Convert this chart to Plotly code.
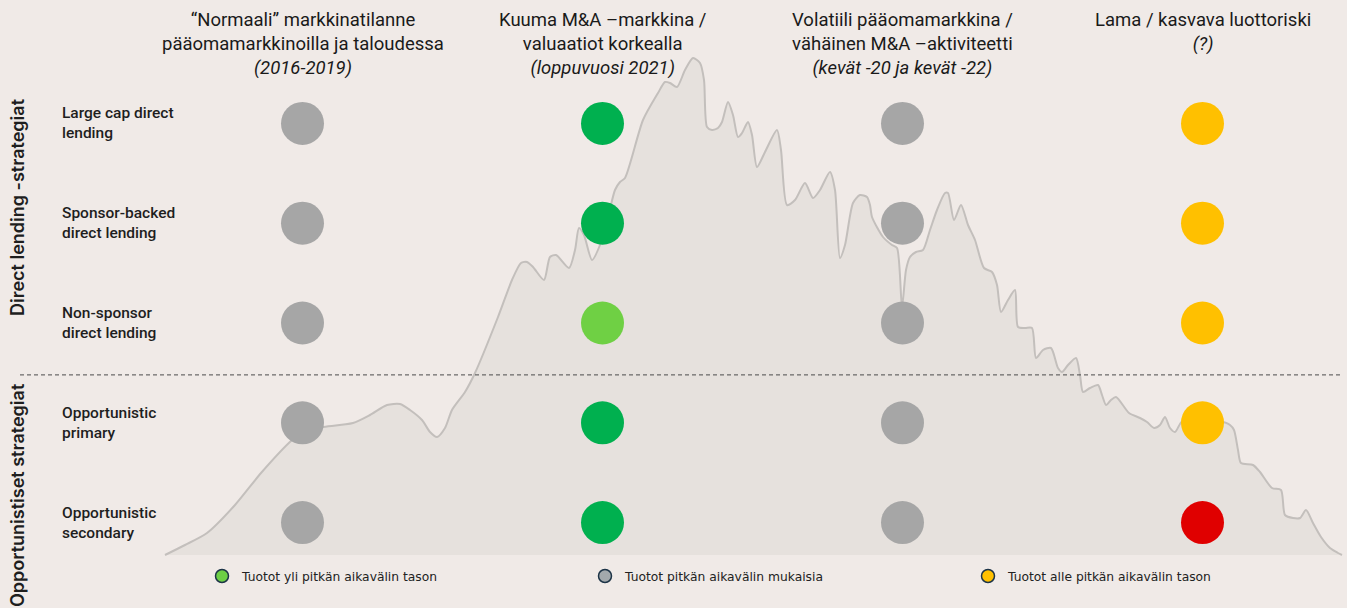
import plotly.graph_objects as go

# ---------------- data ----------------
column_titles = [
    "“Normaali” markkinatilanne<br>pääomamarkkinoilla ja taloudessa<br><i>(2016-2019)</i>",
    "Kuuma M&A –markkina /<br>valuaatiot korkealla<br><i>(loppuvuosi 2021)</i>",
    "Volatiili pääomamarkkina /<br>vähäinen M&A –aktiviteetti<br><i>(kevät -20 ja kevät -22)</i>",
    "Lama / kasvava luottoriski<br><i>(?)</i>",
]
strategies = [
    "Large cap direct<br>lending",
    "Sponsor-backed<br>direct lending",
    "Non-sponsor<br>direct lending",
    "Opportunistic<br>primary",
    "Opportunistic<br>secondary",
]
groups = ["Direct lending -strategiat", "Opportunistiset strategiat"]

# return outlook per strategy (rows) and market scenario (columns)
status = [
    ["neutral", "above", "neutral", "below"],
    ["neutral", "above", "neutral", "below"],
    ["neutral", "above_mild", "neutral", "below"],
    ["neutral", "above", "neutral", "below"],
    ["neutral", "above", "neutral", "well_below"],
]
status_colors = {
    "above": "#00b04f",
    "above_mild": "#6fd044",
    "neutral": "#a6a6a6",
    "below": "#ffc000",
    "well_below": "#e00000",
}
legend_labels = [
    "Tuotot yli pitkän aikavälin tason",
    "Tuotot pitkän aikavälin mukaisia",
    "Tuotot alle pitkän aikavälin tason",
]
legend_colors = ["#6dcf45", "#a3a9ac", "#ffc000"]

# background market index curve (time step, index level)
curve_x = [0, 20, 42, 70, 96, 127, 140, 157, 188, 205,
           222, 235, 245, 257, 265, 272, 280, 287, 300, 310,
           333, 347, 356, 362, 368, 379, 385, 391, 404, 410,
           414, 419, 427, 435, 444, 450, 455, 460, 478, 493,
           500, 505, 512, 520, 528, 535, 539, 542, 547, 553,
           557, 563, 568, 573, 577, 583, 587, 592, 600, 612,
           616, 622, 630, 640, 648, 655, 665, 670, 675, 680,
           688, 695, 702, 705, 707, 718, 727, 732, 737, 741,
           745, 751, 758, 765, 772, 780, 783, 789, 796, 803,
           810, 819, 827, 832, 836, 843, 850, 853, 860, 867,
           871, 878, 886, 893, 897, 903, 911, 915, 918, 925,
           933, 937, 941, 946, 951, 964, 975, 982, 989, 995,
           1000, 1005, 1010, 1015, 1019, 1046, 1057, 1065, 1069, 1073,
           1076, 1088, 1095, 1107, 1116, 1120, 1128, 1135, 1141, 1148,
           1156, 1165, 1173, 1177]
curve_y = [0, 10, 22, 50, 82, 115, 125, 128, 132, 140,
           150, 151, 145, 135, 123, 118, 127, 145, 163, 182,
           238, 275, 292, 293, 288, 275, 298, 300, 287, 305,
           327, 320, 295, 310, 342, 365, 373, 377, 435, 462,
           473, 472, 468, 485, 497, 492, 475, 428, 425, 427,
           433, 453, 440, 418, 422, 433, 420, 388, 403, 425,
           405, 350, 355, 372, 357, 365, 383, 365, 297, 310,
           352, 360, 358, 350, 338, 318, 310, 307, 248, 285,
           298, 303, 305, 325, 345, 362, 362, 335, 350, 330,
           315, 287, 283, 270, 243, 255, 265, 228, 227, 227,
           197, 205, 207, 187, 183, 190, 197, 180, 163, 167,
           170, 160, 150, 155, 158, 142, 137, 133, 127, 130,
           138, 127, 123, 131, 135, 115, 133, 130, 125, 105,
           92, 90, 83, 67, 65, 40, 37, 37, 45, 32,
           18, 7, 2, 0]

# ---------------- pixel layout helpers ----------------
W, H = 1347, 608
BG = "#f0eae7"
col_px0, col_step = 302.5, 300.0     # dot column centres
row_px0, row_step = 123.4, 99.8      # dot row centres
curve_px0, base_px = 165.0, 555.0    # curve origin (left) and baseline

fig = go.Figure()

# market curve (base axes)
fig.add_trace(go.Scatter(
    x=curve_x, y=curve_y, mode="lines",
    line=dict(color="#c3bfbc", width=2, shape="spline", smoothing=0.7),
    fill="tozeroy", fillcolor="#e6e1dd",
    hoverinfo="skip", showlegend=False,
))

# dot matrix (overlay axes)
for key, color in status_colors.items():
    xs, ys = [], []
    for r, row in enumerate(status):
        for c, s in enumerate(row):
            if s == key:
                xs.append(c)
                ys.append(r)
    if xs:
        fig.add_trace(go.Scatter(
            x=xs, y=ys, xaxis="x2", yaxis="y2", mode="markers",
            marker=dict(size=43, color=color, line=dict(width=0)),
            showlegend=False, hoverinfo="skip",
        ))

# legend entries
for label, color in zip(legend_labels, legend_colors):
    fig.add_trace(go.Scatter(
        x=[None], y=[None], xaxis="x2", yaxis="y2", mode="markers", name=label,
        marker=dict(size=13, color=color, line=dict(width=1.5, color="#1d3447")),
    ))

# column headers
for i, t in enumerate(column_titles):
    fig.add_annotation(
        x=i, xref="x2", y=1 - 7 / H, yref="paper", yanchor="top", xanchor="center",
        text=t, showarrow=False, align="center",
        font=dict(family="Roboto", size=18.5, color="#1a1a1a"),
    )

# strategy labels
for r, t in enumerate(strategies):
    fig.add_annotation(
        x=60 / W, xref="paper", y=r, yref="y2", xanchor="left", yanchor="middle",
        text=t, showarrow=False, align="left",
        font=dict(family="Roboto", size=15.5, color="#1e1e1e", weight=500),
    )

# group labels (vertical)
fig.add_annotation(
    x=17 / W, xref="paper", y=1 - 207 / H, yref="paper", xanchor="center", yanchor="middle",
    text=groups[0], textangle=-90, showarrow=False,
    font=dict(family="Inter", size=18, color="#1e1e1e", weight=600),
)
fig.add_annotation(
    x=17 / W, xref="paper", y=1 - 381 / H, yref="paper", xanchor="center", yanchor="top",
    text=groups[1], textangle=-90, showarrow=False,
    font=dict(family="Inter", size=18, color="#1e1e1e", weight=600),
)

# divider between groups
fig.add_shape(
    type="line", xref="paper", yref="y2",
    x0=20 / W, x1=1340 / W, y0=2.52, y1=2.52,
    line=dict(color="#4a4a4a", width=1, dash="4px,3px"),
)

fig.update_layout(
    width=W, height=H,
    margin=dict(l=0, r=0, t=0, b=0, autoexpand=False),
    paper_bgcolor=BG, plot_bgcolor=BG,
    xaxis=dict(range=[-curve_px0, W - curve_px0], visible=False, fixedrange=True),
    yaxis=dict(range=[base_px - H, base_px], visible=False, fixedrange=True),
    xaxis2=dict(range=[-col_px0 / col_step, (W - col_px0) / col_step],
                overlaying="x", visible=False, fixedrange=True),
    yaxis2=dict(range=[(H - row_px0) / row_step, -row_px0 / row_step],
                overlaying="y", visible=False, fixedrange=True),
    showlegend=True,
    legend=dict(
        orientation="h", x=202 / W, xanchor="left", y=1 - 576 / H, yanchor="middle",
        bgcolor="rgba(0,0,0,0)", entrywidth=338, entrywidthmode="pixels",
        font=dict(family="DejaVu Sans", size=12.3, color="#222222"),
        itemclick=False, itemdoubleclick=False,
    ),
)

fig.write_html(
    "out.html",
    config={"displayModeBar": False},
    post_script="document.body.style.margin='0px';",
)
